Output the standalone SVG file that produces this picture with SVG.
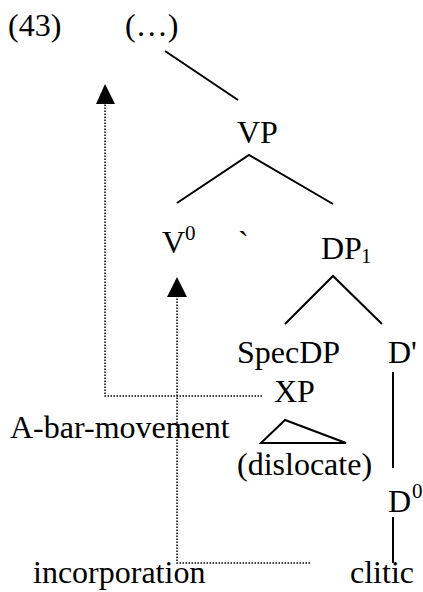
<svg xmlns="http://www.w3.org/2000/svg" width="423" height="592" viewBox="0 0 423 592">
<style>
text{font-family:"Liberation Serif","Times New Roman",serif;font-size:32px;fill:#000}
.s{font-size:21px}
.e{stroke:#000;stroke-width:2;fill:none}
.d{stroke:#000;stroke-width:1.5;fill:none;stroke-dasharray:1.5 1.5}
.h{fill:#000}
</style>
<rect width="423" height="592" fill="#fff"/>
<g id="n43"><text x="8" y="36">(43)</text></g>
<g id="top"><text x="125" y="36">(…)</text></g>
<g id="VP"><text x="237" y="143">VP</text></g>
<g id="V0"><text x="162" y="253">V</text><text class="s" x="185" y="240">0</text></g>
<g id="tick"><text x="238" y="253">`</text></g>
<g id="DP1"><text x="321" y="259">DP</text><text class="s" x="361" y="263">1</text></g>
<g id="SpecDP"><text x="237" y="363">SpecDP</text></g>
<g id="Dbar"><text x="388" y="363">D'</text></g>
<g id="XP"><text x="274" y="402">XP</text></g>
<g id="abar"><text x="10" y="438">A-bar-movement</text></g>
<g id="disl"><polygon class="e" points="285,420 261,443 346,443"/><text x="237" y="475">(dislocate)</text></g>
<g id="D0"><text x="388" y="512">D</text><text class="s" x="412" y="498">0</text></g>
<g id="incorp"><text x="33" y="583">incorporation</text></g>
<g id="clitic"><text x="350" y="583">clitic</text></g>
<g id="connectors">
<line class="e" x1="165" y1="51" x2="238" y2="100"/>
<polyline class="e" points="177,203 249,155 333,204"/>
<polyline class="e" points="285,324 333,276 382,324"/>
<line class="e" x1="393" y1="372" x2="393" y2="468"/>
<line class="e" x1="393" y1="517" x2="393" y2="563"/>
<polyline class="d" points="262,396 105,396 105,104"/>
<polygon class="h" points="105,84 96,104 115,104"/>
<polyline class="d" points="310,563 177,563 177,297"/>
<polygon class="h" points="177,277 167,297 187,297"/>
</g>
</svg>
